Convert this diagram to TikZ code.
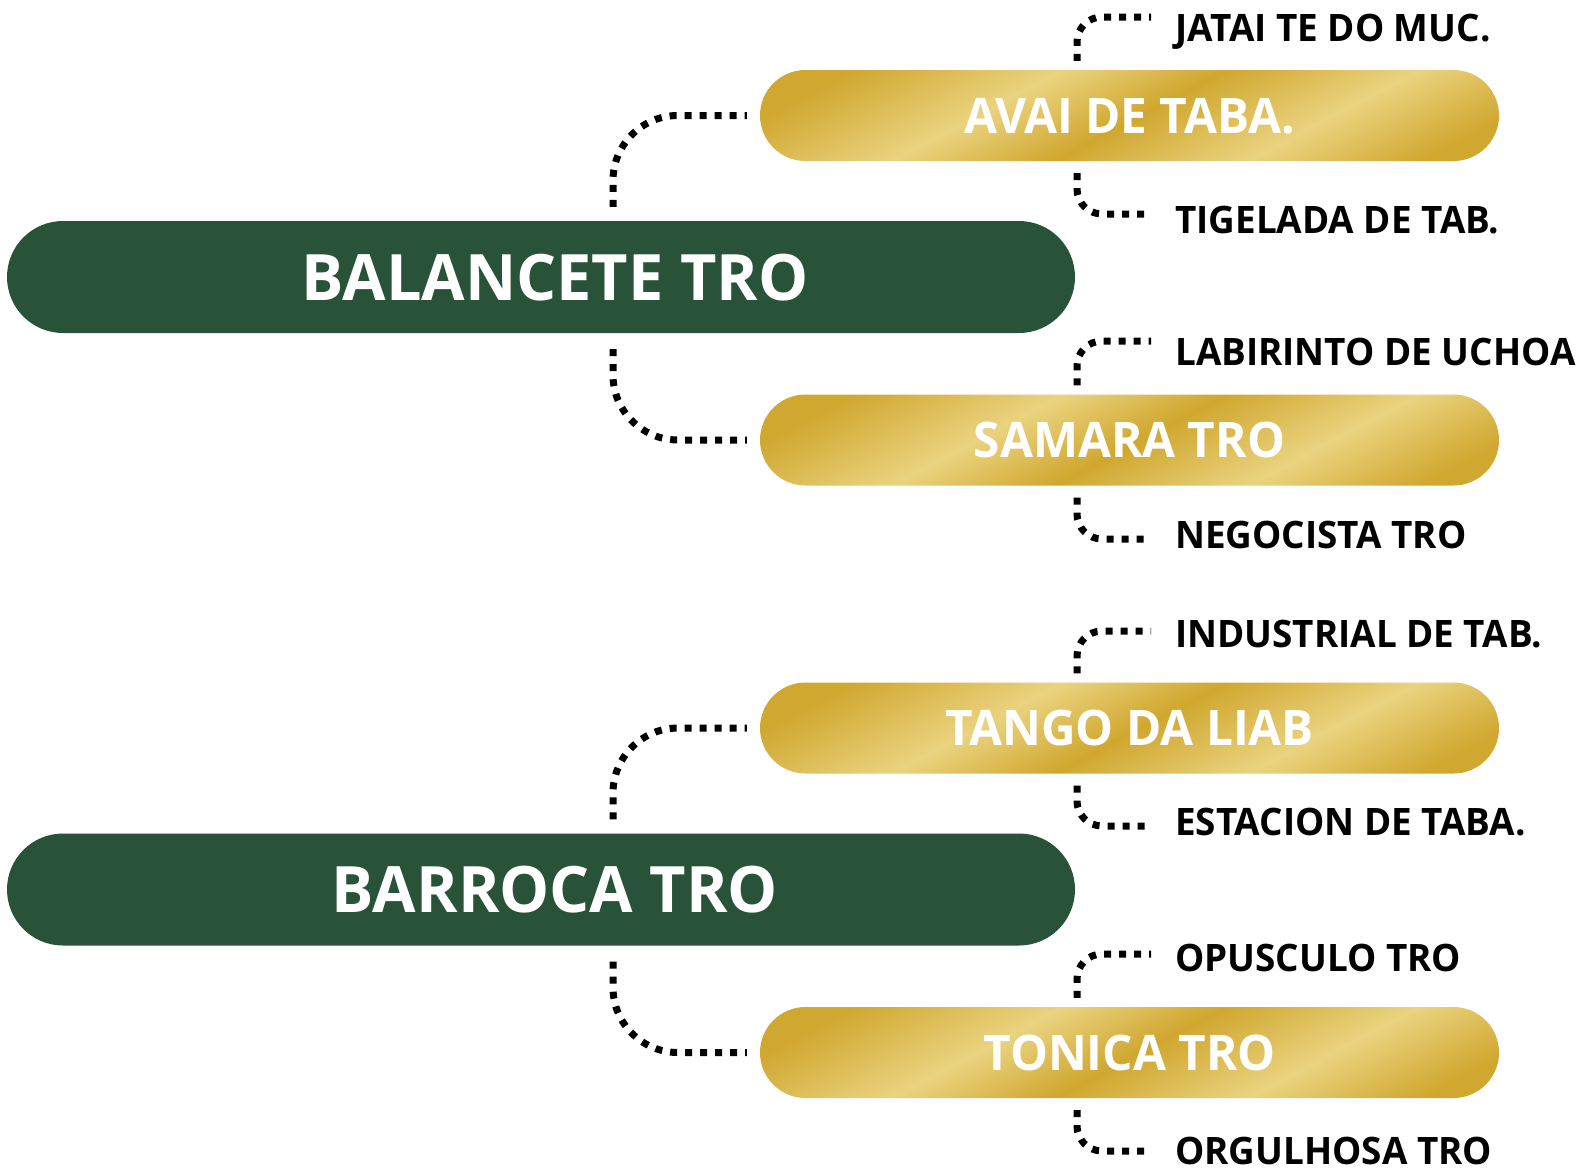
\documentclass[tikz,border=0pt]{standalone}
\usepackage{fontspec}
\setmainfont{Open Sans}[FakeStretch=0.975]
\newfontfamily\bigfont{Open Sans}[FakeStretch=0.985]
\usetikzlibrary{shapes.misc}
\definecolor{dgreen}{RGB}{40,83,56}
\definecolor{gdark}{RGB}{208,167,47}
\definecolor{glight}{RGB}{234,211,127}
\pgfdeclarehorizontalshading{goldband}{100bp}{color(0bp)=(gdark); color(38.7bp)=(gdark); color(45.3bp)=(glight); color(50.3bp)=(gdark); color(56.3bp)=(glight); color(61.8bp)=(gdark); color(100bp)=(gdark)}
\tikzset{
  darkpill/.style={rounded rectangle, fill=dgreen, minimum width=1068pt, minimum height=112pt,
    inner sep=0pt, text=white, font=\bigfont\bfseries\fontsize{64}{70}\selectfont, text height=46pt, text depth=0pt},
  goldpill/.style={rounded rectangle, minimum width=739pt, minimum height=91pt, inner sep=0pt,
    text=white, font=\bfseries\fontsize{49}{55}\selectfont, text height=35pt, text depth=0pt,
    path picture={\shade[shading=goldband, shading angle=-62]
      ([shift={(-380pt,380pt)}]path picture bounding box.center) rectangle ++(760pt,-760pt);}},
  lbl/.style={anchor=west, inner sep=0pt, font=\bfseries\fontsize{37.8}{40}\selectfont, text height=27pt, text depth=0pt},
  dots/.style={line width=7pt, dash pattern=on 7pt off 8pt, black},
}
\begin{document}
\begin{tikzpicture}[x=1pt, y=-1pt]
\path[use as bounding box, fill=white] (0,0) rectangle (1590,1173);

\node[darkpill] (b1) at (541,277) {\hspace*{28pt}BALANCETE TRO};
\node[darkpill] (b2) at (541,889.5) {\hspace*{28pt}BARROCA TRO};

\node[goldpill] (g1) at (1129.5,115.5) {AVAI DE TABA.};
\node[goldpill] (g2) at (1129.5,440) {SAMARA TRO};
\node[goldpill] (g3) at (1129.5,728) {TANGO DA LIAB};
\node[goldpill] (g4) at (1129.5,1052.5) {TONICA TRO};

\node[lbl] (l1) at (1175,28) {JATAI TE DO MUC.};
\node[lbl] (l2) at (1175,220) {TIGELADA DE TAB.};
\node[lbl] (l3) at (1175,352) {LABIRINTO DE UCHOA};
\node[lbl] (l4) at (1175,535) {NEGOCISTA TRO};
\node[lbl] (l5) at (1175,634) {INDUSTRIAL DE TAB.};
\node[lbl] (l6) at (1175,822) {ESTACION DE TABA.};
\node[lbl] (l7) at (1175,958) {OPUSCULO TRO};
\node[lbl] (l8) at (1175,1151) {ORGULHOSA TRO};

\coordinate (e1) at (1151,17);
\coordinate (e2) at (1151,214);
\coordinate (e3) at (1151,341);
\coordinate (e4) at (1151,539);
\coordinate (e5) at (1151,631);
\coordinate (e6) at (1151,826);
\coordinate (e7) at (1151,954);
\coordinate (e8) at (1151,1151);

% main connectors
\draw[dots, rounded corners=65pt] ([shift={(72,-14)}]b1.north) |- ([shift={(-13,0)}]g1.west);
\draw[dots, rounded corners=65pt] ([shift={(72,16)}]b1.south) |- ([shift={(-13,0)}]g2.west);
\draw[dots, rounded corners=65pt] ([shift={(72,-14)}]b2.north) |- ([shift={(-13,0)}]g3.west);
\draw[dots, rounded corners=65pt] ([shift={(72,16)}]b2.south) |- ([shift={(-13,0)}]g4.west);

% small connectors
\draw[dots, rounded corners=25pt] ([shift={(-52.5,-9)}]g1.north) |- (e1);
\draw[dots, rounded corners=25pt] ([shift={(-52.5,12)}]g1.south) |- (e2);
\draw[dots, rounded corners=25pt] ([shift={(-52.5,-9)}]g2.north) |- (e3);
\draw[dots, rounded corners=25pt] ([shift={(-52.5,12)}]g2.south) |- (e4);
\draw[dots, rounded corners=25pt] ([shift={(-52.5,-9)}]g3.north) |- (e5);
\draw[dots, rounded corners=25pt] ([shift={(-52.5,12)}]g3.south) |- (e6);
\draw[dots, rounded corners=25pt] ([shift={(-52.5,-9)}]g4.north) |- (e7);
\draw[dots, rounded corners=25pt] ([shift={(-52.5,12)}]g4.south) |- (e8);
\end{tikzpicture}
\end{document}
